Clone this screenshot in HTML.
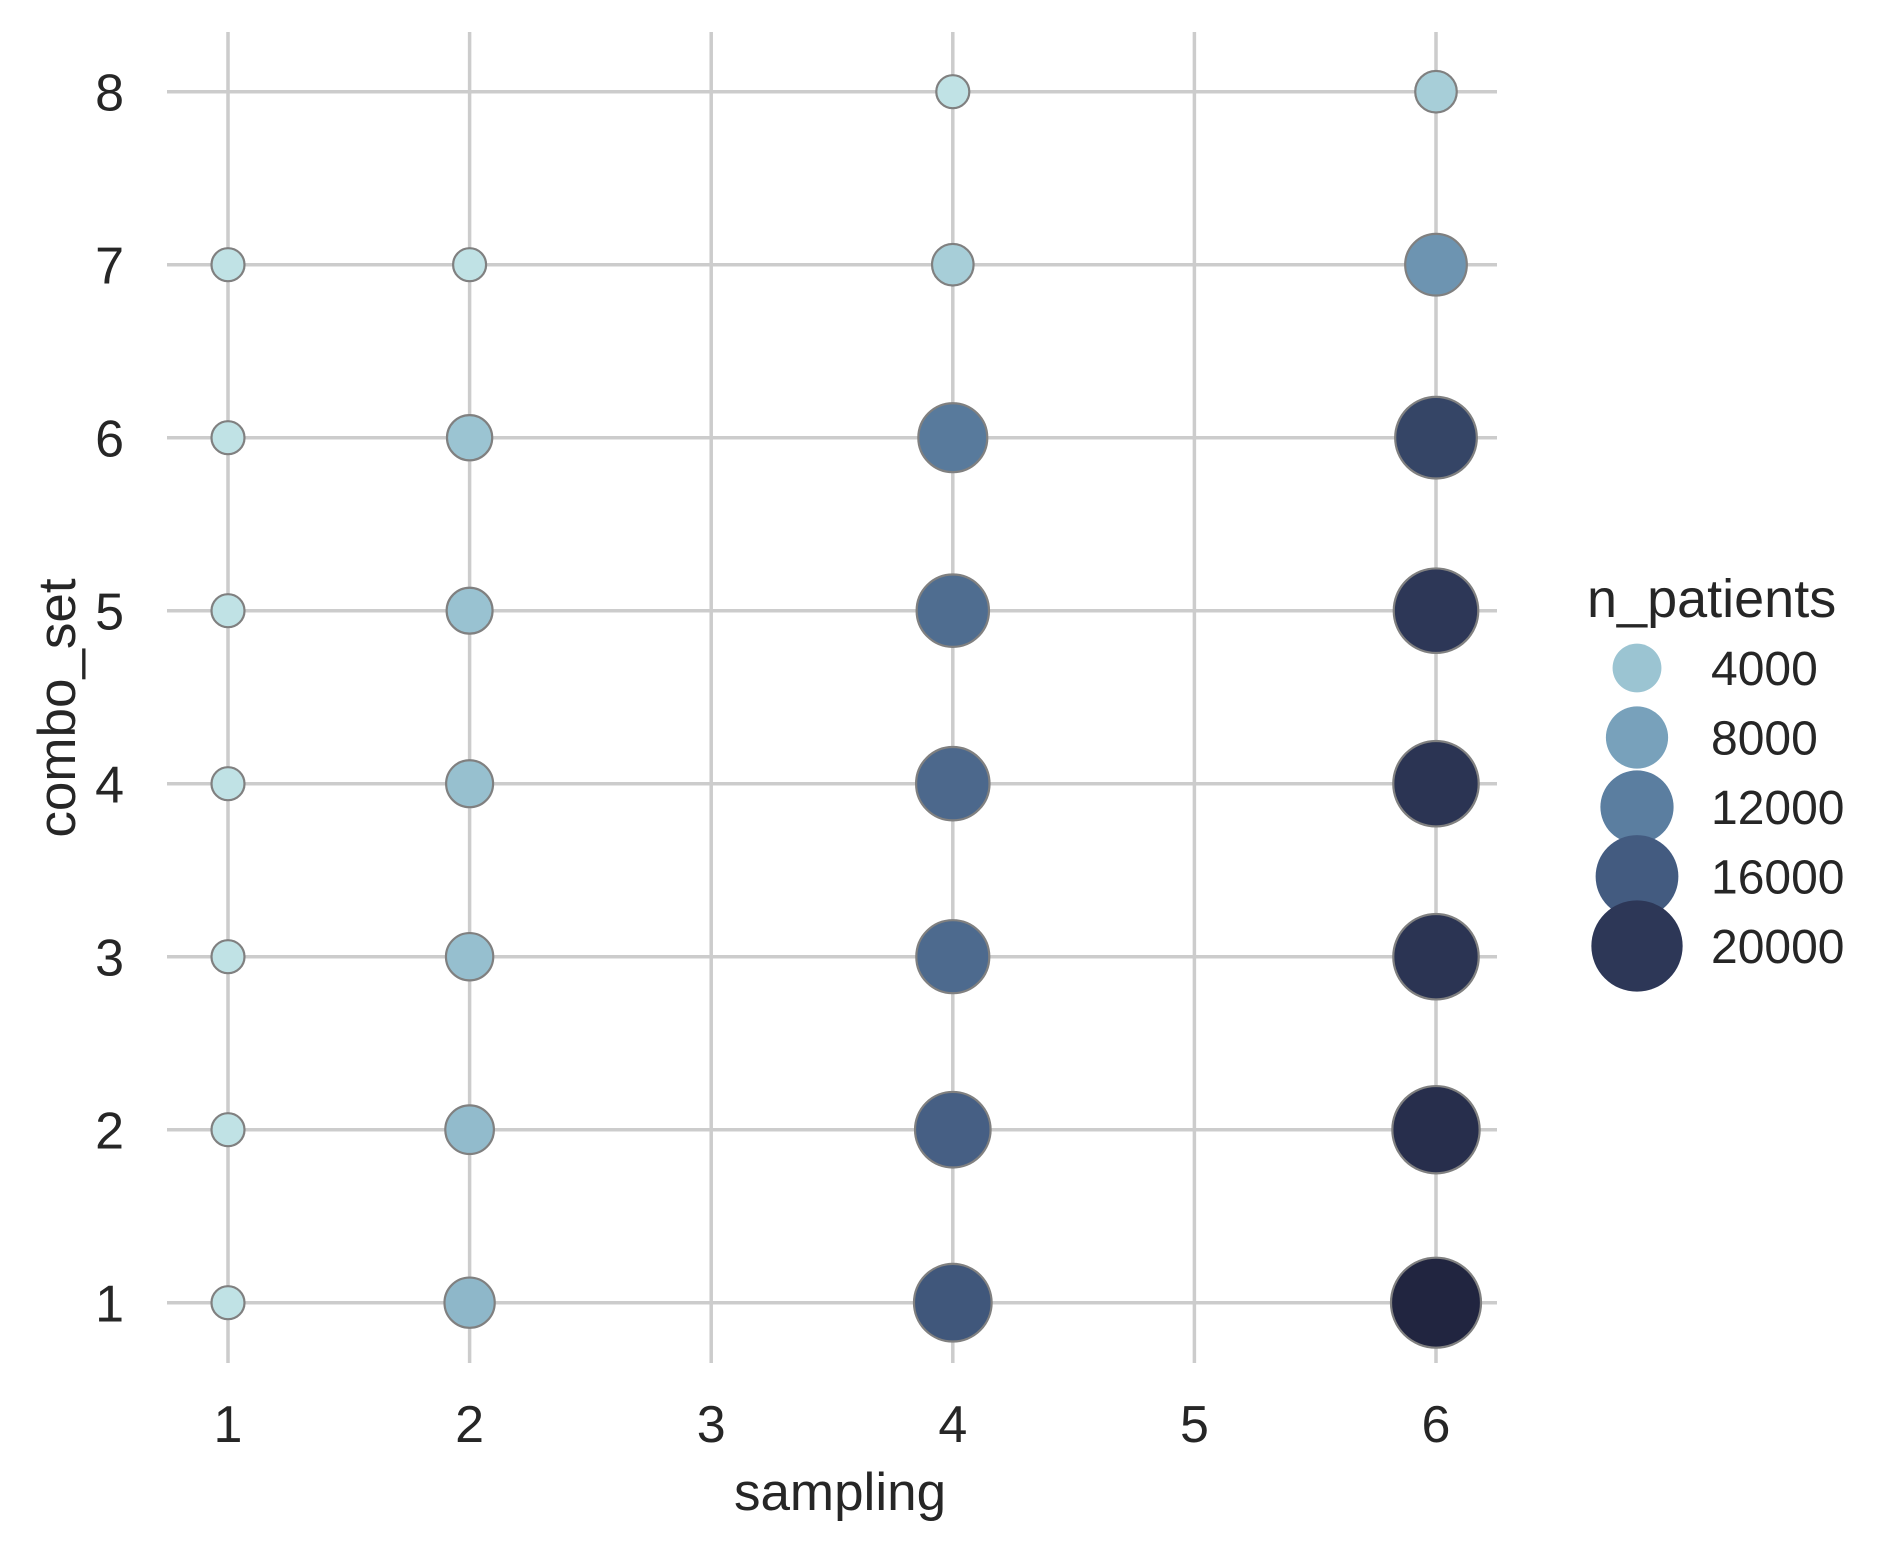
<!DOCTYPE html>
<html><head><meta charset="utf-8"><style>
html,body{margin:0;padding:0;background:#fff;}
svg{display:block;font-family:"Liberation Sans",Arial,sans-serif;}
</style></head><body>
<svg id="chart" width="1893" height="1549" viewBox="0 0 1893 1549" xmlns="http://www.w3.org/2000/svg">
<g id="grid"></g>
<g id="ticks"></g>
<g id="points"></g>
<text x="840" y="1510" font-size="53" fill="#262626" text-anchor="middle">sampling</text>
<text transform="translate(75,708) rotate(-90)" font-size="53" fill="#262626" text-anchor="middle">combo_set</text>
<g id="legend">
<text x="1587" y="617" font-size="54" fill="#262626">n_patients</text>
</g>
</svg>
<script>
const samplingVals = [1,1,1,1,1,1,1, 2,2,2,2,2,2,2, 4,4,4,4,4,4,4,4, 6,6,6,6,6,6,6,6];
const comboVals    = [1,2,3,4,5,6,7, 1,2,3,4,5,6,7, 1,2,3,4,5,6,7,8, 1,2,3,4,5,6,7,8];
const nPatients    = [1000,1000,1000,1000,1000,1000,1000,
                      5500,5000,4600,4500,4200,4000,1000,
                      16500,15500,14300,14500,14000,12500,3000,1000,
                      23000,21500,20500,20500,20000,18500,9500,3000];
const xTicks = [1,2,3,4,5,6];
const yTicks = [1,2,3,4,5,6,7,8];
const legendVals = [4000,8000,12000,16000,20000];

const NS = "http://www.w3.org/2000/svg";
function xs(v){ return 228 + (v-1)*241.6; }
function ys(v){ return 91.7 + (8-v)*173.0; }
function diam(v){ return Math.sqrt(770 + 0.3187*v); }
function legY(i){ return 668 + i*69.5; }
const stops = [[1000,[192,226,229]],[4000,[155,196,210]],[8000,[120,161,187]],[12000,[91,126,160]],[16000,[67,91,128]],[20000,[45,55,87]],[23000,[33,37,64]]];
function color(v){
  if(v<=stops[0][0]) return `rgb(${stops[0][1].join(',')})`;
  for(let i=1;i<stops.length;i++){
    if(v<=stops[i][0]){
      const t=(v-stops[i-1][0])/(stops[i][0]-stops[i-1][0]);
      const c=stops[i-1][1].map((a,k)=>Math.round(a+(stops[i][1][k]-a)*t));
      return `rgb(${c.join(',')})`;
    }
  }
  return `rgb(${stops[stops.length-1][1].join(',')})`;
}
function mk(tag, attrs, parent){
  const e=document.createElementNS(NS,tag);
  for(const k in attrs) e.setAttribute(k, attrs[k]);
  parent.appendChild(e); return e;
}
const grid=document.getElementById('grid');
const ticks=document.getElementById('ticks');
xTicks.forEach(v=>{
  const l=mk('line',{x1:xs(v),x2:xs(v),y1:32,y2:1363,stroke:'#cccccc','stroke-width':3.5},grid);
  
  
  const t=mk('text',{x:xs(v),y:1442,'font-size':52,fill:'#262626','text-anchor':'middle'},ticks);
  t.textContent=v;
  
  
});
yTicks.forEach(v=>{
  const l=mk('line',{x1:167,x2:1497,y1:ys(v),y2:ys(v),stroke:'#cccccc','stroke-width':3.5},grid);
  
  
  const t=mk('text',{x:124,y:ys(v)+19,'font-size':52,fill:'#262626','text-anchor':'end'},ticks);
  t.textContent=v;
  
  
});
const pts=document.getElementById('points');
nPatients.forEach((n,i)=>{
  const c=mk('circle',{cx:xs(samplingVals[i]),cy:ys(comboVals[i]),r:diam(n)/2,fill:color(n),stroke:'#808080','stroke-width':2.2},pts);
  
  
});
const leg=document.getElementById('legend');
legendVals.forEach((v,i)=>{
  const c=mk('circle',{cx:1637,cy:legY(i),r:diam(v)*1.08/2,fill:color(v)},leg);
  
  
  const t=mk('text',{x:1711,y:legY(i)+17,'font-size':48,fill:'#262626'},leg);
  t.textContent=v;
  
  
});
</script>
</body></html>
